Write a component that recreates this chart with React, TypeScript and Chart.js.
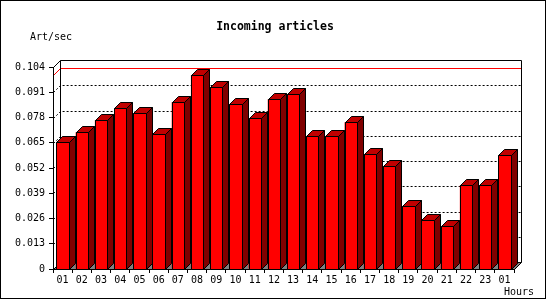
import React, { useEffect, useRef } from "react";
import { Chart, registerables } from "chart.js";

Chart.register(...registerables);

const categories = ["01", "02", "03", "04", "05", "06", "07", "08", "09", "10", "11", "12", "13", "14", "15", "16", "17", "18", "19", "20", "21", "22", "23", "01"];
const articlesPerSec = [0.0654, 0.0704, 0.0766, 0.0828, 0.0802, 0.0694, 0.0858, 0.0997, 0.0936, 0.0848, 0.0776, 0.0874, 0.0900, 0.0683, 0.0683, 0.0755, 0.0591, 0.0530, 0.0323, 0.0251, 0.0220, 0.0431, 0.0431, 0.0585];
const yTicks = [0, 0.013, 0.026, 0.039, 0.052, 0.065, 0.078, 0.091, 0.104];
const yTickLabels = ["0", "0.013", "0.026", "0.039", "0.052", "0.065", "0.078", "0.091", "0.104"];
const yMax = 0.104;
const titleText = "Incoming articles";
const yUnitText = "Art/sec";
const xUnitText = "Hours";

const FONT = "'DejaVu Sans Mono', monospace";
const WALL_DEPTH = 7;
const BAR_DEPTH = 6;

function poly(ctx: CanvasRenderingContext2D, pts: number[][], fill: string | null, stroke: string | null) {
  ctx.beginPath();
  ctx.moveTo(pts[0][0], pts[0][1]);
  for (let i = 1; i < pts.length; i++) ctx.lineTo(pts[i][0], pts[i][1]);
  ctx.closePath();
  if (fill) {
    ctx.fillStyle = fill;
    ctx.fill();
  }
  if (stroke) {
    ctx.strokeStyle = stroke;
    ctx.stroke();
  }
}

const threeDPlugin = {
  id: "threeD",
  beforeDraw(chart: any) {
    const { ctx, chartArea: a, scales } = chart;
    const ys = scales.y;
    const D = WALL_DEPTH;
    const L = Math.round(a.left) + 0.5;
    const R = Math.round(a.right) + 0.5;
    const T = Math.round(a.top) + 0.5;
    const B = Math.round(a.bottom) + 0.5;
    ctx.save();
    ctx.fillStyle = "#ffffff";
    ctx.fillRect(0, 0, chart.width, chart.height);
    ctx.lineWidth = 1;
    // floor
    poly(ctx, [[L, B], [R, B], [R + D, B - D], [L + D, B - D]], "#808080", "#000000");
    // dotted grid on back wall
    ctx.setLineDash([2, 2]);
    ctx.strokeStyle = "#000000";
    yTicks.forEach((v) => {
      if (v === 0 || v === yMax) return;
      const py = Math.round(ys.getPixelForValue(v)) + 0.5;
      ctx.beginPath();
      ctx.moveTo(L, py);
      ctx.lineTo(L + D, py - D);
      ctx.lineTo(R + D, py - D);
      ctx.stroke();
    });
    ctx.setLineDash([]);
    // max line (red)
    const maxVal = Math.max(...articlesPerSec);
    const my = Math.round(ys.getPixelForValue(maxVal)) + 0.5;
    ctx.strokeStyle = "#ff0000";
    ctx.beginPath();
    ctx.moveTo(L, my);
    ctx.lineTo(L + D, my - D);
    ctx.lineTo(R + D, my - D);
    ctx.stroke();
    // frame of the box
    ctx.strokeStyle = "#000000";
    ctx.beginPath();
    ctx.moveTo(L, T);
    ctx.lineTo(L + D, T - D);
    ctx.lineTo(R + D, T - D);
    ctx.lineTo(R + D, B - D);
    ctx.moveTo(L + D, T - D);
    ctx.lineTo(L + D, B - D);
    ctx.stroke();
    ctx.restore();
  },
  afterDatasetsDraw(chart: any) {
    const { ctx } = chart;
    const d = BAR_DEPTH;
    const meta = chart.getDatasetMeta(0);
    ctx.save();
    ctx.lineWidth = 1;
    meta.data.forEach((el: any) => {
      const p = el.getProps(["x", "y", "base", "width"], true);
      const l = Math.round(p.x - p.width / 2) + 0.5;
      const r = Math.round(p.x + p.width / 2) + 0.5;
      const t = Math.round(p.y) + 0.5;
      const b = Math.round(p.base) + 0.5;
      poly(ctx, [[l, t], [r, t], [r, b], [l, b]], "#ff0000", "#000000");
      poly(ctx, [[l, t], [l + d, t - d], [r + d, t - d], [r, t]], "#c00000", "#000000");
      poly(ctx, [[r, t], [r + d, t - d], [r + d, b - d], [r, b]], "#800000", "#000000");
    });
    ctx.restore();
  },
  afterDraw(chart: any) {
    const { ctx } = chart;
    ctx.save();
    ctx.fillStyle = "#000000";
    ctx.textBaseline = "middle";
    ctx.font = `bold 11.5px ${FONT}`;
    ctx.textAlign = "center";
    ctx.fillText(titleText, 275, 27);
    ctx.font = `10px ${FONT}`;
    ctx.textAlign = "left";
    ctx.fillText(yUnitText, 30, 37);
    ctx.fillText(xUnitText, 504, 292);
    ctx.strokeStyle = "#000000";
    ctx.lineWidth = 1;
    ctx.strokeRect(0.5, 0.5, 545, 298);
    ctx.restore();
  },
};

export default function App() {
  const canvasRef = useRef<HTMLCanvasElement | null>(null);

  useEffect(() => {
    if (!canvasRef.current) return;
    const chart = new Chart(canvasRef.current, {
      type: "bar",
      data: {
        labels: categories,
        datasets: [
          {
            label: yUnitText,
            data: articlesPerSec,
            backgroundColor: "#ff0000",
            borderWidth: 0,
            barPercentage: 0.64,
            categoryPercentage: 1,
          },
        ],
      },
      options: {
        responsive: false,
        animation: false,
        devicePixelRatio: 1,
        layout: { padding: { top: 67, right: 36, left: 0, bottom: 0 } },
        plugins: {
          legend: { display: false },
          title: { display: false },
          tooltip: { enabled: false },
        },
        scales: {
          x: {
            type: "category",
            offset: true,
            grid: { display: true, drawOnChartArea: false, drawTicks: true, tickLength: 4, color: "#000000", offset: true },
            border: { display: true, color: "#000000", width: 1 },
            ticks: { color: "#000000", font: { family: FONT, size: 10 }, padding: 1, maxRotation: 0, minRotation: 0, autoSkip: false },
            afterFit: (s: any) => {
              s.height = 31;
            },
          },
          y: {
            min: 0,
            max: yMax,
            afterBuildTicks: (s: any) => {
              s.ticks = yTicks.map((v) => ({ value: v }));
            },
            grid: { display: true, drawOnChartArea: false, drawTicks: true, tickLength: 4, color: "#000000" },
            border: { display: true, color: "#000000", width: 1 },
            ticks: {
              color: "#000000",
              font: { family: FONT, size: 10 },
              padding: 4,
              callback: (_v: any, i: number) => yTickLabels[i],
            },
            afterFit: (s: any) => {
              s.width = 53;
            },
          },
        },
      },
      plugins: [threeDPlugin],
    });
    return () => chart.destroy();
  }, []);

  return (
    <div style={{ position: "fixed", left: 0, top: 0, width: 550, height: 300, background: "#ffffff" }}>
      <canvas ref={canvasRef} width={550} height={300} style={{ width: 550, height: 300, display: "block" }} />
    </div>
  );
}
